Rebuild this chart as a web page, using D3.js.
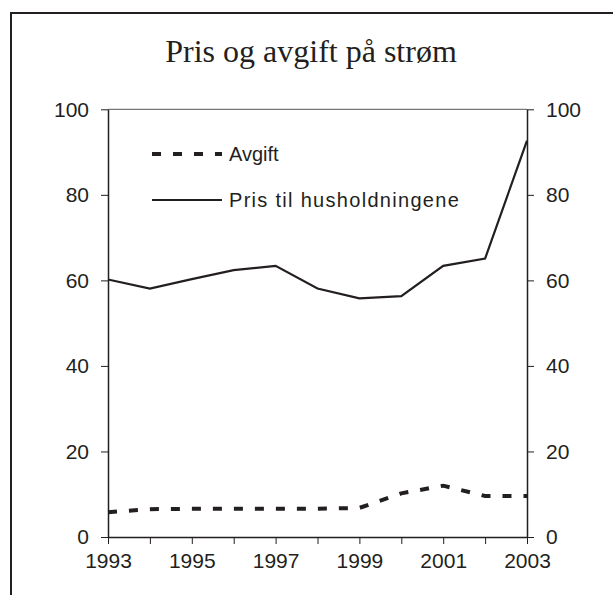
<!DOCTYPE html>
<html>
<head>
<meta charset="utf-8">
<script src="https://cdn.jsdelivr.net/npm/d3@7/dist/d3.min.js"></script>
<style>
  body { margin: 0; background: #fff; }
  svg { display: block; }
  .tick text { font-family: "Liberation Sans", Arial, sans-serif; font-size: 21px; fill: #231f20; }
  .domain, .tick line { stroke: #231f20; }
</style>
</head>
<body>
<svg id="chart" width="613" height="595"></svg>
<script>
// Data
const years = [1993, 1994, 1995, 1996, 1997, 1998, 1999, 2000, 2001, 2002, 2003];
const pris = [60.2, 58.1, 60.3, 62.4, 63.4, 58.1, 55.8, 56.3, 63.4, 65.1, 92.7];
const avgift = [5.8, 6.5, 6.6, 6.6, 6.6, 6.6, 6.8, 10.2, 12.0, 9.6, 9.6];
const yTicks = [0, 20, 40, 60, 80, 100];
const xLabelYears = [1993, 1995, 1997, 1999, 2001, 2003];

const svg = d3.select("#chart");
const ink = "#231f20";

// Outer frame (cut off at right and bottom in the reference)
svg.append("rect")
  .attr("x", 11).attr("y", 13)
  .attr("width", 700).attr("height", 700)
  .attr("fill", "none")
  .attr("stroke", ink)
  .attr("stroke-width", 2);

// Title
svg.append("text")
  .attr("x", 311)
  .attr("y", 62)
  .attr("text-anchor", "middle")
  .style("font-family", "'Liberation Serif', 'Times New Roman', serif")
  .style("font-size", "32px")
  .attr("fill", ink)
  .text("Pris og avgift på strøm");

const x = d3.scaleLinear().domain([1993, 2003]).range([108, 527]);
const y = d3.scaleLinear().domain([0, 100]).range([537, 109.3]);

// Top border of plot area
svg.append("line")
  .attr("x1", x(1993)).attr("x2", x(2003))
  .attr("y1", y(100)).attr("y2", y(100))
  .attr("stroke", "#555")
  .attr("stroke-width", 1);

// Left axis
svg.append("g")
  .attr("transform", `translate(${x(1993)},0)`)
  .call(d3.axisLeft(y).tickValues(yTicks).tickSize(7).tickPadding(12).tickSizeOuter(0))
  .call(g => g.select(".domain").attr("stroke-width", 1.5));

// Right axis
svg.append("g")
  .attr("transform", `translate(${x(2003)},0)`)
  .call(d3.axisRight(y).tickValues(yTicks).tickSize(7).tickPadding(12).tickSizeOuter(0))
  .call(g => g.select(".domain").attr("stroke-width", 1.5));

// Bottom axis: tick every year, label every second year
svg.append("g")
  .attr("transform", `translate(0,${y(0)})`)
  .call(d3.axisBottom(x).tickValues(years).tickSize(7).tickPadding(9).tickSizeOuter(0)
    .tickFormat(d => xLabelYears.includes(d) ? d3.format("d")(d) : ""))
  .call(g => g.select(".domain").attr("stroke-width", 1.5));

// Lines
const line = d3.line().x((d, i) => x(years[i])).y(d => y(d));
svg.append("path")
  .datum(pris)
  .attr("d", line)
  .attr("fill", "none")
  .attr("stroke", ink)
  .attr("stroke-width", 2.2);

svg.append("path")
  .datum(avgift)
  .attr("d", line)
  .attr("fill", "none")
  .attr("stroke", ink)
  .attr("stroke-width", 4)
  .attr("stroke-dasharray", "9,12");

// Legend
const legend = svg.append("g")
  .style("font-family", "'Liberation Sans', Arial, sans-serif")
  .style("font-size", "20px")
  .attr("fill", ink);

legend.append("line")
  .attr("x1", 152).attr("x2", 222).attr("y1", 154).attr("y2", 154)
  .attr("stroke", ink).attr("stroke-width", 4).attr("stroke-dasharray", "9,12");
legend.append("text")
  .attr("x", 229).attr("y", 161)
  .text("Avgift");

legend.append("line")
  .attr("x1", 152).attr("x2", 222).attr("y1", 200).attr("y2", 200)
  .attr("stroke", ink).attr("stroke-width", 2);
legend.append("text")
  .attr("x", 229).attr("y", 207)
  .style("letter-spacing", "1.3px")
  .text("Pris til husholdningene");
</script>
</body>
</html>
